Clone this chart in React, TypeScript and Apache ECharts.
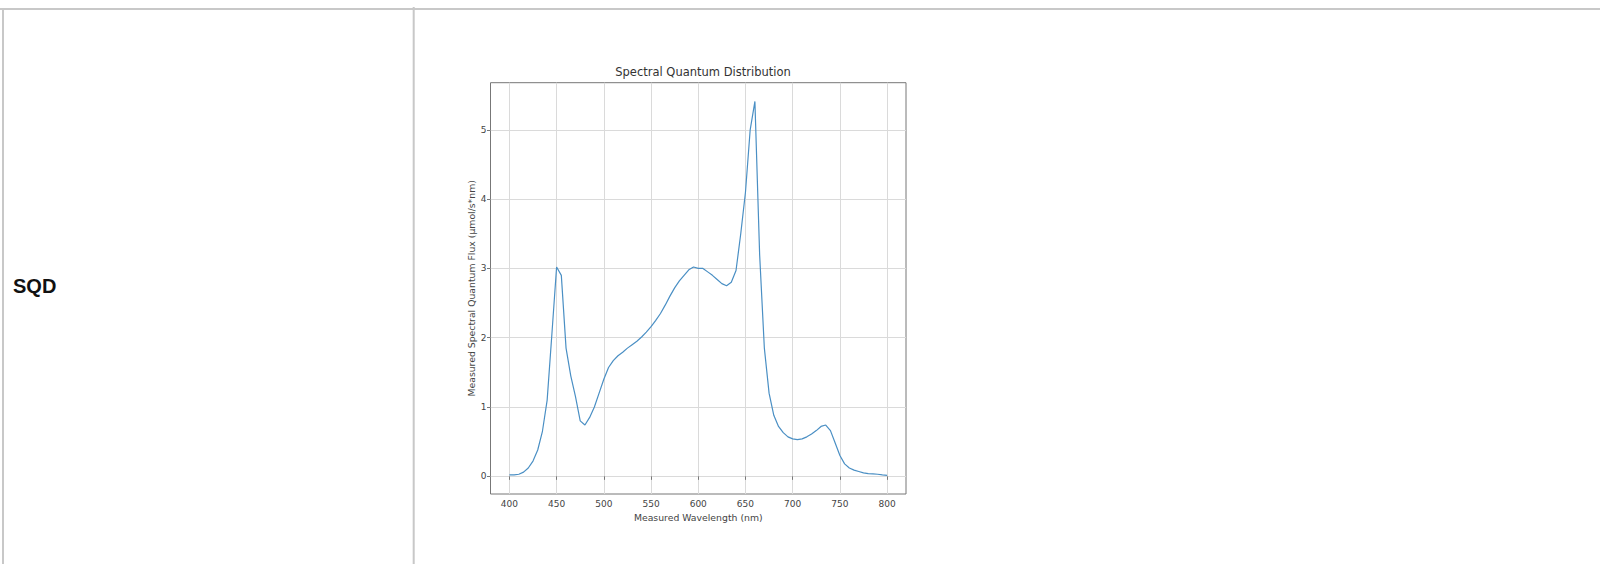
import React, { useEffect, useRef } from "react";
import * as echarts from "echarts";

const wavelengths = [
  400, 405, 410, 415, 420, 425, 430, 435, 440, 445, 450, 455, 460, 465, 470, 475, 480, 485, 490, 495,
  500, 505, 510, 515, 520, 525, 530, 535, 540, 545, 550, 555, 560, 565, 570, 575, 580, 585, 590, 595,
  600, 605, 610, 615, 620, 625, 630, 635, 640, 645, 650, 655, 660, 665, 670, 675, 680, 685, 690, 695,
  700, 705, 710, 715, 720, 725, 730, 735, 740, 745, 750, 755, 760, 765, 770, 775, 780, 785, 790, 795, 800,
];

const flux = [
  0.02, 0.02, 0.03, 0.06, 0.12, 0.22, 0.38, 0.65, 1.1, 2.05, 3.02, 2.9, 1.85, 1.45, 1.15, 0.8, 0.74, 0.85, 1.0, 1.2,
  1.4, 1.57, 1.67, 1.74, 1.79, 1.85, 1.9, 1.95, 2.01, 2.08, 2.16, 2.25, 2.35, 2.47, 2.6, 2.72, 2.82, 2.9, 2.98, 3.02,
  3.0, 3.0, 2.95, 2.9, 2.84, 2.78, 2.75, 2.8, 2.97, 3.5, 4.1, 5.0, 5.41, 3.2, 1.85, 1.2, 0.88, 0.72, 0.63, 0.57,
  0.54, 0.53, 0.54, 0.57, 0.61, 0.66, 0.72, 0.74, 0.66, 0.48, 0.3, 0.18, 0.12, 0.09, 0.07, 0.05, 0.04, 0.035, 0.03, 0.02, 0.015,
];

const xTicks = [400, 450, 500, 550, 600, 650, 700, 750, 800];
const yTicks = [0, 1, 2, 3, 4, 5];

const titleText = "Spectral Quantum Distribution";
const xName = "Measured Wavelength (nm)";
const yName = "Measured Spectral Quantum Flux (μmol/s*nm)";
const rowLabel = "SQD";

const FONT = "DejaVu Sans";
const TEXT = "#444";
const BORDER = "#c8c8c8";

export default function App() {
  const ref = useRef<HTMLDivElement>(null);

  useEffect(() => {
    if (!ref.current) return;
    const chart = echarts.init(ref.current, undefined, { renderer: "svg" });
    const axisText = { fontFamily: FONT, fontSize: 9, color: TEXT };
    chart.setOption({
      animation: false,
      title: {
        text: titleText,
        left: 698,
        top: 61,
        textAlign: "center",
        textStyle: { fontFamily: FONT, fontSize: 11.5, fontWeight: "normal", color: "#333" },
      },
      grid: {
        left: 490.5,
        top: 82.7,
        width: 415.5,
        height: 411.3,
        show: true,
        borderColor: "#777",
        borderWidth: 1,
        backgroundColor: "transparent",
      },
      xAxis: {
        type: "value",
        min: 380,
        max: 820,
        name: xName,
        nameLocation: "middle",
        nameGap: 16,
        nameTextStyle: { ...axisText, fontSize: 9.3 },
        axisLine: { show: false },
        axisTick: { show: true, length: 3.5, customValues: xTicks, lineStyle: { color: "#777" } },
        axisLabel: { ...axisText, margin: 5, customValues: xTicks },
        splitLine: { show: true, lineStyle: { color: "#dadada", width: 1 } },
      },
      yAxis: {
        type: "value",
        min: -0.255,
        max: 5.68,
        name: yName,
        nameLocation: "middle",
        nameGap: 15,
        nameTextStyle: { ...axisText, fontSize: 9.3 },
        axisLine: { show: false },
        axisTick: { show: true, length: 3.5, customValues: yTicks, lineStyle: { color: "#777" } },
        axisLabel: { ...axisText, margin: 4, customValues: yTicks },
        splitLine: { show: true, lineStyle: { color: "#dadada", width: 1 } },
      },
      series: [
        {
          type: "line",
          data: wavelengths.map((w, i) => [w, flux[i]]),
          symbol: "none",
          showSymbol: false,
          lineStyle: { color: "#4a8fc4", width: 1.2 },
          z: 3,
        },
      ],
      graphic: [
        { type: "line", shape: { x1: 0, y1: 9, x2: 1600, y2: 9 }, style: { stroke: BORDER, lineWidth: 2 } },
        { type: "line", shape: { x1: 3, y1: 8, x2: 3, y2: 564 }, style: { stroke: BORDER, lineWidth: 2 } },
        { type: "line", shape: { x1: 413.7, y1: 7, x2: 413.7, y2: 564 }, style: { stroke: BORDER, lineWidth: 2 } },
        {
          type: "text",
          x: 13,
          y: 286,
          style: {
            text: rowLabel,
            font: "bold 20px 'Liberation Sans', Arial, sans-serif",
            fill: "#111",
            verticalAlign: "middle",
            align: "left",
          },
        },
      ],
    });
    return () => chart.dispose();
  }, []);

  return (
    <div
      ref={ref}
      style={{ position: "absolute", left: 0, top: 0, width: 1600, height: 564, background: "#fff" }}
    />
  );
}
